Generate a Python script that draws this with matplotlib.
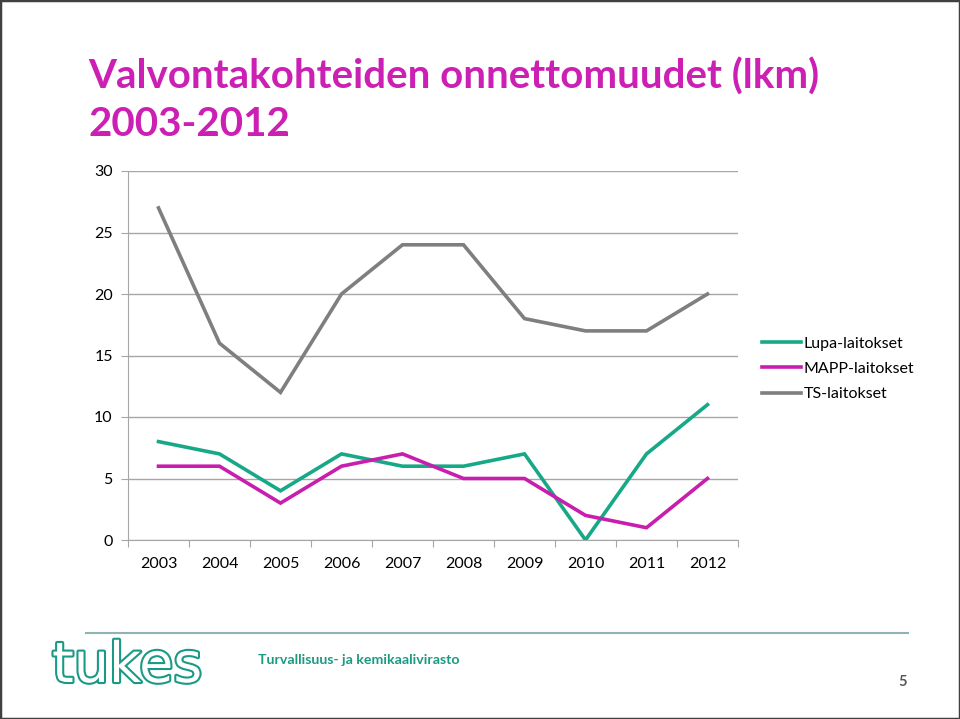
import matplotlib
matplotlib.use("Agg")
import matplotlib.pyplot as plt
import matplotlib.patheffects as pe
from matplotlib.patches import Rectangle

years = ["2003", "2004", "2005", "2006", "2007", "2008", "2009", "2010", "2011", "2012"]
lupa = [8, 7, 4, 7, 6, 6, 7, 0, 7, 11]
mapp = [6, 6, 3, 6, 7, 5, 5, 2, 1, 5]
ts = [27, 16, 12, 20, 24, 24, 18, 17, 17, 20]
series_names = ["Lupa-laitokset", "MAPP-laitokset", "TS-laitokset"]
colors = ["#17A987", "#C81EAE", "#7F7F7F"]

plt.rcParams['font.family'] = ['Lato', 'DejaVu Sans']

W, H = 960, 719
fig = plt.figure(figsize=(W / 100, H / 100), dpi=100)

ax = fig.add_axes([128 / W, 1 - 540 / H, (738 - 128) / W, (540 - 171) / H])
x = list(range(len(years)))
for vals, name, c in zip([lupa, mapp, ts], series_names, colors):
    ax.plot(x, vals, color=c, lw=2.6, label=name, solid_joinstyle='miter')

ax.set_xlim(-0.5, len(years) - 0.5)
ax.set_ylim(0, 30)
ax.set_yticks(range(0, 31, 5))
ax.yaxis.grid(True, color="#A6A6A6", lw=1)
ax.set_axisbelow(True)
for s in ["top", "right"]:
    ax.spines[s].set_visible(False)
ax.spines["left"].set_color("#A6A6A6")
ax.spines["bottom"].set_color("#A6A6A6")
ax.set_xticks([i - 0.5 for i in range(len(years) + 1)], minor=False)
ax.set_xticklabels([])
ax.set_xticks(x, minor=True)
ax.set_xticklabels(years, minor=True)
ax.tick_params(axis='x', which='major', length=5, color="#A6A6A6", direction='out')
ax.tick_params(axis='x', which='minor', length=0, pad=12, labelsize=11.5)
ax.tick_params(axis='y', length=5, color="#A6A6A6", labelsize=11.5, pad=6)

leg = ax.legend(loc='upper left', bbox_to_anchor=(748 / W, 1 - 322 / H), bbox_transform=fig.transFigure,
                frameon=False, fontsize=11.5, handlelength=2.4, handletextpad=0.2, labelspacing=0.7)

fig.text(88 / W, 1 - 89 / H, "Valvontakohteiden onnettomuudet (lkm)", color="#CC1FB4", fontsize=29,
         fontweight='bold')
fig.text(88 / W, 1 - 136 / H, "2003-2012", color="#CC1FB4", fontsize=29, fontweight='bold')

# footer
fig.add_artist(plt.Line2D([86 / W, 908 / W], [1 - 633 / H, 1 - 633 / H], color="#8FB3B0", lw=1.5,
                          transform=fig.transFigure))
t = fig.text(52 / W, 1 - 682 / H, "tukes", color="white", fontsize=40, family=['DejaVu Sans'],
             fontweight='normal')
t.set_path_effects([pe.Stroke(linewidth=3, foreground="#1A9A86"), pe.Normal()])
fig.text(258 / W, 1 - 664 / H, "Turvallisuus- ja kemikaalivirasto", color="#1A9A80", fontsize=10.2,
         fontweight='bold')
fig.text(903 / W, 1 - 686 / H, "5", color="#595959", fontsize=10.5, ha='center', fontweight='bold')

fig.add_artist(Rectangle((0, 0), 1, 1, transform=fig.transFigure, fill=False, edgecolor="#404040", lw=2.5))

fig.savefig("out.png", dpi=100)
